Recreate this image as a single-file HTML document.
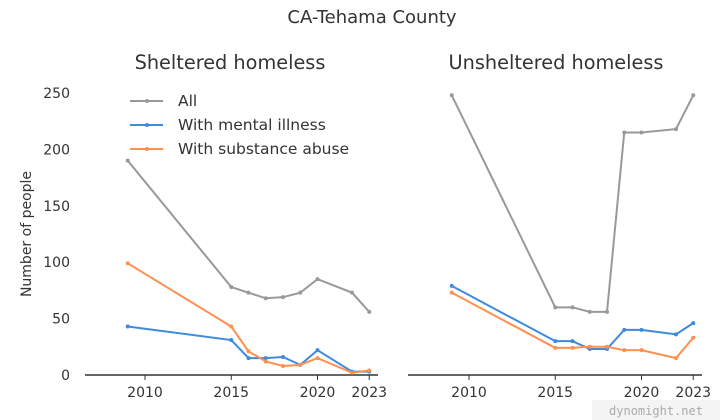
<!DOCTYPE html>
<html><head><meta charset="utf-8"><style>
body{margin:0;background:#fff;}
svg{display:block;font-family:"DejaVu Sans","Liberation Sans",sans-serif;}
</style></head><body>
<svg id="c" width="720" height="420" viewBox="0 0 720 420">
<text x="372" y="23" text-anchor="middle" font-size="18" fill="#333">CA-Tehama County</text>
<text x="230" y="69" text-anchor="middle" font-size="19.3" fill="#333">Sheltered homeless</text>
<text x="556" y="69" text-anchor="middle" font-size="19.3" fill="#333">Unsheltered homeless</text>
<text transform="translate(31,234) rotate(-90)" text-anchor="middle" font-size="14" fill="#333">Number of people</text>
<rect x="592" y="400" width="128" height="20" fill="#f4f4f4"/>
<text x="656" y="415" text-anchor="middle" font-size="12" fill="#aaa" font-family="DejaVu Sans Mono,monospace">dynomight.net</text>
<g id="g"></g>
</svg>
<script>
const years=[2009,2015,2016,2017,2018,2019,2020,2022,2023];
const shelAll=[190,78,73,68,69,73,85,73,56];
const shelMental=[43,31,15,15,16,9,22,3,3];
const shelSubst=[99,43,21,12,8,9,15,2,4];
const unshAll=[248,60,60,56,56,215,215,218,248];
const unshMental=[79,30,30,23,23,40,40,36,46];
const unshSubst=[73,24,24,25,25,22,22,15,33];
const yTicks=[0,50,100,150,200,250];
const xTicks=[2010,2015,2020,2023];
const colors={all:"#999999",mental:"#3d8ae0",subst:"#ff9050"};
const NS="http://www.w3.org/2000/svg";
const g=document.getElementById('g');
const y=v=>375-v*1.128;
function mk(t,a){const e=document.createElementNS(NS,t);for(const k in a)e.setAttribute(k,a[k]);g.appendChild(e);return e;}
yTicks.forEach(v=>{const t=mk('text',{x:70,y:y(v)+5,'text-anchor':'end','font-size':14,fill:'#333'});t.textContent=v;

});
function panel(x0,x1,x2010,name,series){
 const x=yr=>x2010+(yr-2010)*17.25;
 const ax=mk('line',{x1:x0,x2:x1,y1:375,y2:375,stroke:'#333','stroke-width':1.5});
 
 
 xTicks.forEach(v=>{const l=mk('line',{x1:x(v),x2:x(v),y1:375,y2:380,stroke:'#333'});
  
  
  const t=mk('text',{x:x(v),y:397,'text-anchor':'middle','font-size':14,fill:'#333'});t.textContent=v;
  
  });
 series.forEach(([key,vals])=>{
  const p=mk('polyline',{points:years.map((yr,i)=>x(yr)+','+y(vals[i])).join(' '),fill:'none',stroke:colors[key],'stroke-width':2});
  
  
  years.forEach((yr,i)=>{const c=mk('circle',{cx:x(yr),cy:y(vals[i]),r:2,fill:colors[key]});
   
   });
 });
}
panel(85,378,145,'sheltered',[['all',shelAll],['mental',shelMental],['subst',shelSubst]]);
panel(408,702,469,'unsheltered',[['all',unshAll],['mental',unshMental],['subst',unshSubst]]);
const leg=[['All','all'],['With mental illness','mental'],['With substance abuse','subst']];
leg.forEach(([lab,key],i)=>{const yy=101+i*24;
 const l=mk('line',{x1:130,x2:163,y1:yy,y2:yy,stroke:colors[key],'stroke-width':2});
 
 
 const c=mk('circle',{cx:147,cy:yy,r:2,fill:colors[key]});
 
 
 const t=mk('text',{x:178,y:yy+5,'font-size':15.5,fill:'#333'});t.textContent=lab;
 
 });
</script>
</body></html>
